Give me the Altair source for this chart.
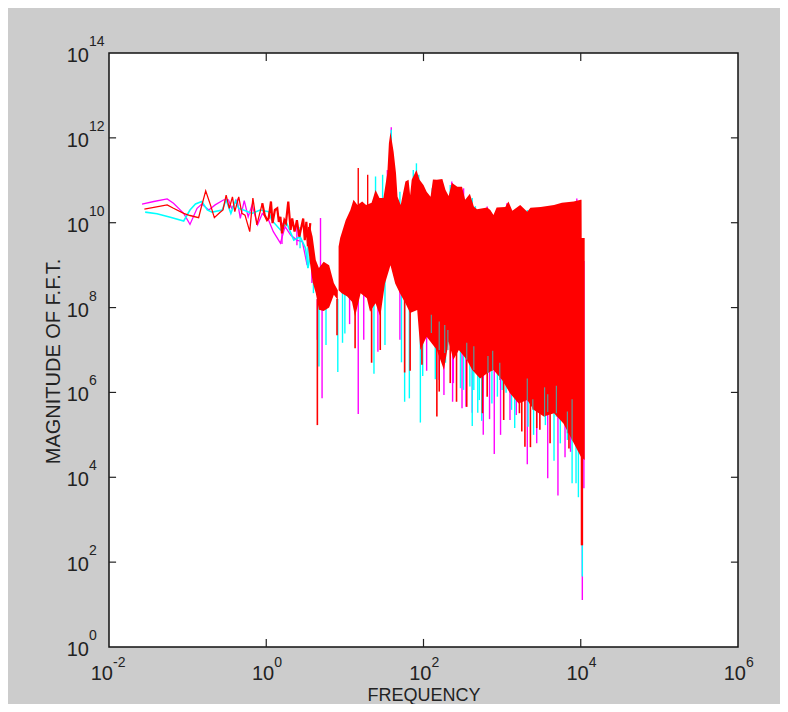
import altair as alt
import pandas as pd

# All values below are log10 readings from the picture.
X_TICKS = [-2, 0, 2, 4, 6]
Y_TICKS = [0, 2, 4, 6, 8, 10, 12, 14]

MAG_LINE_F = [-1.58,-1.43,-1.26,-1.18,-1.05,-0.97,-0.88,-0.82,-0.73,-0.65,-0.54,-0.48,-0.44,-0.37,-0.33,-0.28,-0.23,-0.18,-0.11,-0.05,0.03,0.09,0.18,0.24,0.31,0.39,0.46,0.52]
MAG_LINE_V = [10.44,10.50,10.56,10.46,10.22,9.96,10.34,10.44,10.30,10.42,10.54,10.54,10.34,10.54,10.10,10.52,10.14,10.42,9.95,10.22,10.06,9.79,9.52,9.91,9.71,9.59,9.55,9.00]
CYA_LINE_F = [-1.54,-1.39,-1.22,-1.05,-0.97,-0.90,-0.82,-0.75,-0.69,-0.56,-0.51,-0.45,-0.39,-0.35,-0.29,-0.18,-0.08,0.03,0.07,0.18,0.26,0.35,0.43,0.50,0.53,0.57]
CYA_LINE_V = [10.25,10.21,10.13,10.04,10.30,10.44,10.50,10.30,10.25,10.30,10.54,10.22,10.52,10.34,10.30,10.22,10.30,10.26,10.06,9.83,9.99,9.59,9.67,9.40,8.93,9.30]
RED_LINE_F = [-1.55,-1.43,-1.26,-1.18,-1.05,-0.97,-0.86,-0.83,-0.77,-0.71,-0.66,-0.59,-0.55,-0.51,-0.47,-0.43,-0.40,-0.35,-0.31,-0.27,-0.21,-0.17,-0.12,-0.05]
RED_LINE_V = [10.32,10.36,10.42,10.34,10.22,10.17,10.12,10.34,10.75,10.42,10.12,10.24,10.30,10.65,10.34,10.61,10.26,10.61,10.22,10.18,9.79,10.58,9.95,10.46]
RED_ZIG_F = [-0.05,-0.02,0.01,0.03,0.06,0.08,0.11,0.14,0.16,0.18,0.20,0.23,0.25,0.28,0.31,0.33,0.36,0.39,0.42,0.47,0.49,0.51,0.53,0.56]
RED_ZIG_V = [10.46,10.18,10.06,10.10,10.50,9.99,10.30,10.34,10.02,10.14,9.75,10.06,9.99,10.50,9.83,10.10,9.79,10.06,9.67,10.10,9.59,10.02,9.44,9.99]

# Dense band in the dip
DIP_F  = [0.53,0.56,0.59,0.63,0.67,0.73,0.80,0.86,0.91]
DIP_HI = [9.90,9.90,9.67,9.12,8.93,9.08,9.00,8.58,8.41]
DIP_LO = [9.44,9.00,8.60,8.34,7.95,7.92,8.00,8.30,8.18]

# Solid red band, upper and lower edges
MID = 9.1
TOP_F = [0.92,0.94,1.01,1.07,1.11,1.16,1.22,1.27,1.34,1.39,1.44,1.49,1.54,1.56,1.58,1.62,1.65,1.67,1.71,1.77,1.81,1.83,1.85,1.91,1.95,2.00,2.04,2.09,2.12,2.17,2.24,2.28,2.32,2.36,2.43,2.49,2.53,2.59,2.64,2.68,2.81,2.85,2.89,2.93,3.04,3.08,3.13,3.23,3.32,3.36,3.49,3.66,3.76,3.91,4.00,4.01,4.012,4.05]
TOP_V = [9.44,9.64,10.06,10.30,10.54,10.42,10.50,10.42,10.47,10.77,10.58,10.58,11.17,11.87,12.13,11.67,11.17,10.61,10.42,10.97,11.01,10.65,11.01,11.24,11.01,10.89,10.73,10.61,11.02,11.01,11.03,10.77,10.63,10.94,10.85,10.85,10.54,10.68,10.38,10.32,10.36,10.30,10.18,10.36,10.37,10.50,10.28,10.42,10.26,10.35,10.37,10.42,10.47,10.50,10.54,10.54,9.64,9.64]
LOW_F = [0.92,0.96,1.03,1.09,1.13,1.20,1.28,1.32,1.39,1.45,1.51,1.58,1.64,1.70,1.77,1.83,1.92,1.96,2.04,2.17,2.26,2.32,2.38,2.45,2.55,2.62,2.72,2.81,2.89,3.00,3.10,3.21,3.32,3.40,3.53,3.66,3.78,3.89,4.00,4.05]
LOW_V = [8.41,8.34,8.26,8.14,7.79,8.34,8.22,7.90,8.10,7.79,8.57,9.00,8.57,8.34,8.10,7.87,7.94,7.00,7.31,7.00,6.53,7.20,6.77,7.00,6.77,6.53,6.33,6.45,6.53,6.29,5.98,5.74,5.82,5.59,5.43,5.51,5.27,4.88,4.49,4.41]

# Single deep spikes
RED_SPIKE_F = [0.65,0.90,1.13,1.34,1.45,1.76,1.83,1.98,2.17,2.20,2.34,2.42,2.55,2.75,2.81,3.02,3.22,3.25,3.29,3.36,3.44,3.48,3.61,3.85,4.01,4.02]
RED_SPIKE_V = [5.23,7.35,7.04,6.70,7.00,6.47,6.51,6.65,5.43,6.02,6.22,5.78,5.66,5.51,5.90,5.35,5.51,5.08,4.72,4.71,5.16,5.12,4.80,4.68,2.40,2.40]
MAG_SPIKE_F = [0.20,0.39,0.58,0.65,0.71,1.06,1.17,1.24,1.42,1.70,2.04,2.20,2.26,2.37,2.38,2.49,2.54,2.62,2.76,2.84,2.90,2.98,3.10,3.18,3.32,3.44,3.58,3.71,3.80,3.87,4.02,4.04]
MAG_SPIKE_V = [9.50,9.47,8.58,7.24,5.86,7.61,5.49,7.24,6.96,7.24,6.51,6.29,5.94,5.78,6.22,5.63,5.66,5.52,5.00,5.37,4.55,5.00,5.35,5.47,4.31,4.80,3.98,3.57,4.47,4.60,1.11,3.74]
CYA_SPIKE_F = [0.43,0.53,0.60,0.67,0.76,0.91,0.97,1.00,1.37,1.51,1.72,1.76,1.82,1.96,1.99,2.15,2.28,2.47,2.51,2.59,2.62,2.64,2.69,2.71,2.74,2.87,2.94,3.00,3.05,3.12,3.16,3.33,3.40,3.55,3.66,3.69,3.74,3.75,3.83,3.89,3.94,3.97,4.02]
CYA_SPIKE_V = [9.40,8.93,8.34,6.61,7.12,6.48,7.17,7.39,6.44,7.12,6.71,5.78,5.86,5.29,6.39,6.31,6.70,6.10,6.06,6.14,5.21,6.06,5.52,5.82,5.33,5.74,5.90,6.06,5.99,5.59,5.16,5.19,5.00,5.23,4.39,5.43,4.80,5.35,4.88,3.86,3.86,3.53,1.66]

# Tips rising above the red band
RED_TIP_F = [1.17,1.29]
RED_TIP_V = [11.29,11.13]
MAG_TIP_F = [0.69,1.54,1.59,2.13,2.24,2.36,2.51,2.81,3.06,3.23,3.95]
MAG_TIP_V = [10.11,11.24,12.25,10.97,10.93,10.97,10.81,10.38,10.46,10.36,10.57]
CYA_TIP_F = [1.39,1.48,1.59,1.70,1.87,1.91,1.94,2.11,2.17,2.34,2.40,2.54,2.62,2.66,2.91,3.04,3.15,3.32]
CYA_TIP_V = [11.09,11.13,12.19,10.73,11.24,11.40,11.13,10.81,10.93,10.89,10.73,10.54,10.58,10.39,10.18,10.34,10.30,10.30]

# Grey-teal slits seen inside the lower edge of the red band
SLIT_F  = [2.10,2.20,2.27,2.31,2.55,2.64,2.82,2.88,2.97,3.32,3.39,3.54,3.58,3.69,3.83,3.89]
SLIT_HI = [7.83,7.67,7.59,7.47,7.17,7.09,6.86,6.98,6.70,6.33,5.84,6.12,5.96,6.16,5.55,5.84]
SLIT_LO = [7.40,7.00,6.93,7.00,6.77,6.53,6.46,6.53,6.29,5.82,5.59,5.43,5.54,5.51,5.04,4.88]

MAGENTA, CYAN, RED, TEAL = "#ff00ff", "#00ffff", "#ff0000", "#5a9a9a"
INK = "#222222"
FONT = "Liberation Sans"

xs = alt.Scale(type="log", domain=[1e-2, 1e6], nice=False)
ys = alt.Scale(type="log", domain=[1, 1e14], nice=False)
x_axis = alt.Axis(title="FREQUENCY", labels=False, ticks=False, domain=False, grid=False,
                  titleFont=FONT, titleFontSize=18, titleFontWeight="normal", titleColor=INK, titlePadding=39)
y_axis = alt.Axis(title="MAGNITUDE OF F.F.T.", labels=False, ticks=False, domain=False, grid=False,
                  titleFont=FONT, titleFontSize=20, titleFontWeight="normal", titleColor=INK, titlePadding=46, titleY=308)
X = alt.X("f:Q", scale=xs, axis=x_axis)
Y = alt.Y("v:Q", scale=ys, axis=y_axis)


def frame(f, v, v2=None):
    d = {"f": [10.0 ** a for a in f], "v": [10.0 ** a for a in v]}
    if v2 is not None:
        d["v2"] = [10.0 ** a for a in v2]
    return pd.DataFrame(d)


def line(f, v, color, width=1.3):
    return alt.Chart(frame(f, v)).mark_line(color=color, strokeWidth=width).encode(x=X, y=Y, order="index:O").transform_window(index="row_number()")


def rules(f, v, v2, color, width=1.4):
    return alt.Chart(frame(f, v, v2)).mark_rule(color=color, strokeWidth=width).encode(x=X, y=Y, y2="v2:Q")


def spikes(f, v, color, width=1.4):
    # downward spikes rise back into the band; near the dip the band sits lower
    base = [(max(a + 0.5, 8.2) if b < 0.92 else MID) for a, b in zip(v, f)]
    return rules(f, v, base, color, width)


def tips(f, v, color):
    base = [8.5 if b < 0.92 else MID for b in f]
    return rules(f, v, base, color)


def band(f, hi, lo, color=RED):
    return alt.Chart(frame(f, hi, lo)).mark_area(color=color, opacity=1, interpolate="linear").encode(x=X, y=Y, y2="v2:Q")


layers = [
    line(MAG_LINE_F, MAG_LINE_V, MAGENTA),
    spikes(MAG_SPIKE_F, MAG_SPIKE_V, MAGENTA),
    tips(MAG_TIP_F, MAG_TIP_V, MAGENTA),
    line(CYA_LINE_F, CYA_LINE_V, CYAN, width=1.6),
    spikes(CYA_SPIKE_F, CYA_SPIKE_V, CYAN),
    tips(CYA_TIP_F, CYA_TIP_V, CYAN),
    line(RED_LINE_F, RED_LINE_V, RED),
    line(RED_ZIG_F, RED_ZIG_V, RED, width=2.2),
    band(DIP_F, DIP_HI, DIP_LO),
    band(TOP_F, TOP_V, [MID] * len(TOP_F)),
    band(LOW_F, [MID] * len(LOW_F), LOW_V),
    tips(RED_TIP_F, RED_TIP_V, RED),
    spikes(RED_SPIKE_F, RED_SPIKE_V, RED, width=1.6),
    rules(SLIT_F, SLIT_HI, SLIT_LO, TEAL, width=1.2),
]

# Inward tick marks on all four sides
LEN_Y = 0.19
LEN_X = 0.09
inner_x = [t for t in X_TICKS if -2 < t < 6]
inner_y = [t for t in Y_TICKS if 0 < t < 14]
for v0, v1 in [(0, LEN_Y), (14, 14 - LEN_Y)]:
    df = pd.DataFrame({"f": [10.0 ** t for t in inner_x], "v": [10.0 ** v0] * len(inner_x), "v2": [10.0 ** v1] * len(inner_x)})
    layers.append(alt.Chart(df).mark_rule(color=INK, strokeWidth=1.2).encode(x=X, y=Y, y2="v2:Q"))
for f0, f1 in [(-2, -2 + LEN_X), (6, 6 - LEN_X)]:
    df = pd.DataFrame({"v": [10.0 ** t for t in inner_y], "f": [10.0 ** f0] * len(inner_y), "f2": [10.0 ** f1] * len(inner_y)})
    layers.append(alt.Chart(df).mark_rule(color=INK, strokeWidth=1.2).encode(x=X, x2="f2:Q", y=Y))


def tick_text(rows, base_dx, base_dy, exp_dx, exp_dy):
    df = pd.DataFrame(rows)
    return [
        alt.Chart(df).mark_text(text="10", font=FONT, fontSize=20, color=INK, align="right", dx=base_dx, dy=base_dy, baseline="alphabetic").encode(x=X, y=Y),
        alt.Chart(df).mark_text(font=FONT, fontSize=14, color=INK, align="left", dx=exp_dx, dy=exp_dy, baseline="alphabetic").encode(x=X, y=Y, text="e:N"),
    ]


bottom = 1.0
for group, off in [([t for t in X_TICKS if t < 0], 4), ([t for t in X_TICKS if t >= 0], 8)]:
    rows = {"f": [10.0 ** t for t in group], "v": [bottom] * len(group), "e": [str(t) for t in group]}
    layers += tick_text(rows, off, 33, off, 20)

rows = {"f": [1e-2] * len(Y_TICKS), "v": [10.0 ** t for t in Y_TICKS], "e": [str(t) for t in Y_TICKS]}
layers += tick_text(rows, -20, 9, -20, -7)

chart = alt.layer(*layers).properties(
    width=629, height=594,
    background="#cccccc",
    padding={"left": 101, "top": 45, "right": 42, "bottom": 57},
    autosize=alt.AutoSizeParams(type="none"),
).configure_view(fill="white", stroke="#111111", strokeWidth=1.5)

chart.save("out.html", embed_options={"renderer": "svg", "actions": False})
